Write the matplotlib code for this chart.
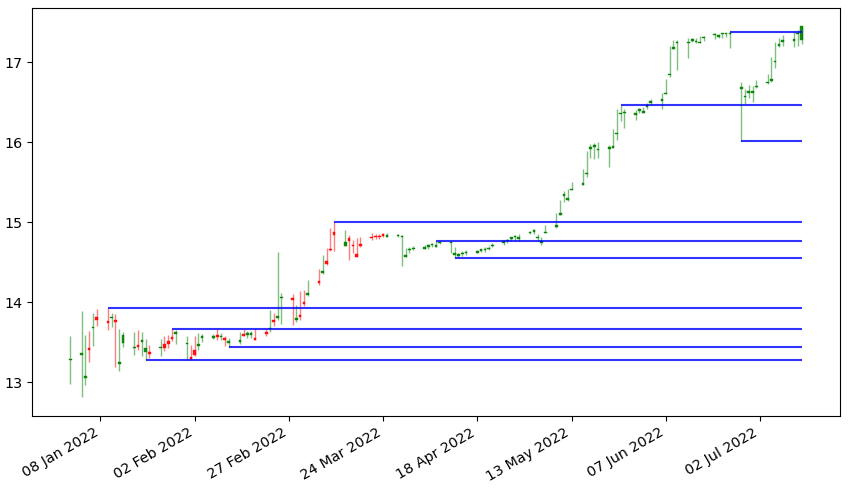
import pandas as pd
import numpy as np
import matplotlib
matplotlib.use("Agg")
import matplotlib.pyplot as plt
import matplotlib.dates as mpl_dates

# Daily OHLC, 31 Dec 2021 .. 13 Jul 2022 (every weekday)
dates = pd.bdate_range("2021-12-31", "2022-07-13")

opens = [
    13.27,
    13.34, 13.05, 13.43, 13.67, 13.82,
    13.76, 13.80, 13.77, 13.23, 13.49,
    13.42, 13.46, 13.50, 13.37, 13.37,
    13.42, 13.47, 13.51, 13.56, 13.60,
    13.47, 13.31, 13.40, 13.45, 13.55,
    13.55, 13.59, 13.56, 13.55, 13.49,
    13.50, 13.60, 13.59, 13.59, 13.55,
    13.62, 13.66, 13.78, 13.80, 14.05,
    14.05, 13.77, 13.84, 14.00, 14.09,
    14.26, 14.36, 14.51, 14.67, 14.88,
    14.70, 14.80, 14.72, 14.60, 14.73,
    14.82, 14.83, 14.83, 14.85, 14.82,
    14.83, 14.81, 14.57, 14.65, 14.66,
    14.67, 14.69, 14.71, 14.69, 14.74,
    14.74, 14.59, 14.58, 14.60, 14.61,
    14.62, 14.64, 14.65, 14.66, 14.70,
    14.74, 14.76, 14.79, 14.81, 14.79,
    14.86, 14.88, 14.80, 14.74, 14.86,
    14.94, 15.09, 15.33, 15.28, 15.40,
    15.47, 15.60, 15.92, 15.94, 15.90,
    15.92, 15.93, 16.10, 16.35, 16.36,
    16.34, 16.39, 16.37, 16.44, 16.49,
    16.52, 16.60, 16.84, 17.17, 17.24,
    17.24, 17.27, 17.25, 17.24, 17.30,
    17.34, 17.32, 17.35, 17.35, 17.35,
    16.67, 16.56, 16.62, 16.62, 16.69,
    16.74, 16.77, 17.00, 17.21, 17.26,
    17.27, 17.35, 17.28,
]
highs = [
    13.58,
    13.89, 13.59, 13.64, 13.87, 13.92,
    13.93, 13.87, 13.85, 13.66, 13.62,
    13.63, 13.65, 13.63, 13.54, 13.46,
    13.54, 13.58, 13.59, 13.66, 13.65,
    13.57, 13.46, 13.57, 13.61, 13.60,
    13.60, 13.66, 13.61, 13.57, 13.55,
    13.63, 13.66, 13.64, 13.64, 13.66,
    13.66, 13.90, 13.87, 14.63, 14.12,
    14.10, 13.96, 14.14, 14.15, 14.28,
    14.42, 14.59, 14.68, 14.93, 15.00,
    14.90, 14.84, 14.78, 14.80, 14.82,
    14.86, 14.85, 14.85, 14.87, 14.86,
    14.85, 14.84, 14.68, 14.69, 14.70,
    14.72, 14.73, 14.74, 14.76, 14.76,
    14.76, 14.69, 14.62, 14.64, 14.65,
    14.65, 14.67, 14.69, 14.70, 14.74,
    14.78, 14.79, 14.82, 14.84, 14.85,
    14.89, 14.91, 14.85, 14.81, 14.96,
    15.12, 15.28, 15.39, 15.41, 15.50,
    15.66, 15.89, 15.98, 15.99, 16.00,
    15.97, 16.16, 16.41, 16.46, 16.41,
    16.40, 16.43, 16.44, 16.49, 16.54,
    16.61, 16.79, 17.20, 17.28, 17.28,
    17.30, 17.31, 17.30, 17.33, 17.33,
    17.37, 17.36, 17.37, 17.37, 17.38,
    16.75, 16.67, 16.72, 16.71, 16.78,
    16.85, 17.07, 17.26, 17.31, 17.34,
    17.39, 17.41, 17.45,
]
lows = [
    12.98,
    12.81, 12.96, 13.25, 13.45, 13.70,
    13.65, 13.69, 13.19, 13.14, 13.44,
    13.34, 13.40, 13.33, 13.27, 13.30,
    13.33, 13.39, 13.42, 13.51, 13.47,
    13.28, 13.28, 13.33, 13.40, 13.50,
    13.54, 13.52, 13.53, 13.45, 13.44,
    13.48, 13.57, 13.55, 13.55, 13.52,
    13.57, 13.63, 13.70, 13.77, 13.73,
    13.71, 13.75, 13.78, 13.95, 14.08,
    14.21, 14.35, 14.46, 14.64, 14.64,
    14.70, 14.53, 14.61, 14.56, 14.69,
    14.78, 14.79, 14.79, 14.81, 14.81,
    14.81, 14.45, 14.57, 14.62, 14.65,
    14.67, 14.67, 14.69, 14.69, 14.73,
    14.62, 14.55, 14.57, 14.58, 14.59,
    14.61, 14.63, 14.63, 14.65, 14.69,
    14.72, 14.74, 14.77, 14.77, 14.76,
    14.85, 14.85, 14.76, 14.72, 14.86,
    14.93, 15.09, 15.25, 15.27, 15.40,
    15.47, 15.57, 15.80, 15.79, 15.80,
    15.69, 15.93, 16.03, 16.27, 16.18,
    16.28, 16.36, 16.37, 16.42, 16.47,
    16.41, 16.60, 16.82, 17.17, 16.90,
    17.05, 17.25, 17.24, 17.24, 17.27,
    17.29, 17.30, 17.31, 17.32, 17.18,
    16.02, 16.48, 16.55, 16.50, 16.68,
    16.73, 16.76, 16.93, 17.19, 17.20,
    17.19, 17.21, 17.23,
]
closes = [
    13.29,
    13.36, 13.07, 13.40, 13.69, 13.78,
    13.74, 13.82, 13.75, 13.25, 13.59,
    13.44, 13.44, 13.53, 13.43, 13.35,
    13.44, 13.43, 13.47, 13.54, 13.63,
    13.49, 13.29, 13.34, 13.47, 13.57,
    13.57, 13.56, 13.58, 13.53, 13.51,
    13.52, 13.57, 13.61, 13.61, 13.53,
    13.60, 13.68, 13.75, 13.83, 14.07,
    14.03, 13.80, 13.82, 13.98, 14.11,
    14.24, 14.39, 14.48, 14.65, 14.84,
    14.75, 14.77, 14.70, 14.56, 14.70,
    14.80, 14.81, 14.81, 14.83, 14.84,
    14.84, 14.83, 14.59, 14.67, 14.68,
    14.69, 14.71, 14.73, 14.71, 14.75,
    14.75, 14.61, 14.60, 14.62, 14.63,
    14.64, 14.66, 14.67, 14.68, 14.72,
    14.76, 14.78, 14.81, 14.83, 14.81,
    14.88, 14.90, 14.82, 14.76, 14.88,
    14.96, 15.11, 15.35, 15.30, 15.42,
    15.49, 15.62, 15.94, 15.96, 15.92,
    15.94, 15.95, 16.12, 16.37, 16.38,
    16.36, 16.41, 16.39, 16.46, 16.51,
    16.54, 16.62, 16.86, 17.19, 17.26,
    17.26, 17.29, 17.27, 17.26, 17.32,
    17.36, 17.34, 17.37, 17.37, 17.37,
    16.69, 16.58, 16.64, 16.64, 16.71,
    16.76, 16.79, 17.02, 17.23, 17.28,
    17.29, 17.37, 17.45,
]

# support / resistance levels: start date and price
level_dates = ["2022-01-10", "2022-01-20", "2022-01-27", "2022-02-11", "2022-03-11",
               "2022-04-07", "2022-04-12", "2022-05-26", "2022-06-24", "2022-06-27"]
level_values = [13.93, 13.27, 13.66, 13.44, 15.00, 14.76, 14.55, 16.46, 17.38, 16.02]

df = pd.DataFrame({"Date": dates, "Open": opens, "High": highs, "Low": lows, "Close": closes})
df["Date"] = df["Date"].apply(mpl_dates.date2num)
up = df["Close"] >= df["Open"]
colors = np.where(up, "green", "red")

fig, ax = plt.subplots(figsize=(8.48, 4.88), dpi=100)

# wicks
ax.vlines(df["Date"], df["Low"], df["High"], colors=colors, linewidth=1.0, alpha=0.5)
# bodies
ax.bar(df["Date"], df["Close"] - df["Open"], bottom=df["Open"], width=0.7,
       color=colors, edgecolor=colors, linewidth=0.3, alpha=0.9)

last_date = df["Date"].max()
for d, v in zip(level_dates, level_values):
    ax.hlines(v, xmin=mpl_dates.date2num(pd.Timestamp(d)), xmax=last_date,
              colors="blue", linewidth=1.5, alpha=0.8)

ax.xaxis.set_major_formatter(mpl_dates.DateFormatter("%d %b %Y"))
ax.tick_params(labelsize=10.3)
fig.autofmt_xdate()
fig.subplots_adjust(left=0.038, right=0.99, top=0.984, bottom=0.148)

plt.savefig("out.png", dpi=100)
